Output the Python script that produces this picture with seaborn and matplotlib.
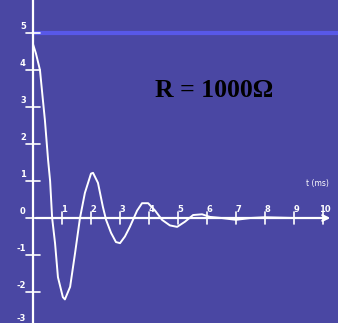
import numpy as np
import pandas as pd
import matplotlib
matplotlib.use("Agg")
import matplotlib.pyplot as plt
import seaborn as sns

# values: time (ms) and voltage
t_ms = [0.0, 0.10, 0.24, 0.34, 0.41, 0.52, 0.59, 0.66, 0.76, 0.86, 1.03, 1.10,
        1.28, 1.45, 1.62, 1.79, 2.00, 2.07, 2.24, 2.41, 2.52, 2.69, 2.86, 3.00,
        3.17, 3.34, 3.59, 3.76, 3.97, 4.21, 4.45, 4.72, 4.97, 5.24, 5.52, 5.83,
        6.10, 6.50, 7.00, 7.50, 8.00, 9.00, 10.0]
volts = [4.7, 4.45, 4.0, 3.2, 2.65, 1.57, 1.0, 0.0, -0.68, -1.6, -2.14, -2.2,
         -1.86, -0.95, 0.0, 0.68, 1.2, 1.22, 0.95, 0.3, -0.05, -0.4, -0.65, -0.68,
         -0.5, -0.24, 0.2, 0.4, 0.4, 0.2, -0.05, -0.2, -0.24, -0.1, 0.08, 0.1,
         0.03, 0.0, -0.05, 0.0, 0.02, 0.0, 0.0]

x_ticks = [1, 2, 3, 4, 5, 6, 7, 8, 9, 10]
y_ticks = [5, 4, 3, 2, 1, 0, -1, -2, -3]
ref_level = 5
title_text = "R = 1000Ω"

df = pd.DataFrame({"t": t_ms, "v": volts})

bg = "#4a47a3"
sns.set_style("white", {"axes.facecolor": bg, "figure.facecolor": bg})

fig = plt.figure(figsize=(3.38, 3.23), dpi=100)
ax = fig.add_axes([0, 0, 1, 1])
ax.set_facecolor(bg)

# reference level line at 5
ax.axhline(ref_level, xmin=0.1, xmax=1, color="#5a5af0", lw=3, alpha=0.9)

# axes drawn by hand like on the scope picture
ax.axvline(0, color="white", lw=1.6)
ax.annotate("", xy=(10.35, 0), xytext=(0, 0),
            arrowprops=dict(arrowstyle="->", color="white", lw=1.6))

for xt in x_ticks:
    ax.plot([xt, xt], [-0.17, 0.17], color="white", lw=1.2)
    ax.text(xt + 0.08, 0.12, str(xt), color="white", fontsize=6,
            ha="center", va="bottom", fontweight="bold")

for yt in y_ticks:
    ax.plot([-0.25, 0.25], [yt, yt], color="white", lw=1.2)
    # bottom label sits at the lower edge, keep it inside the picture
    ty = yt + 0.05 if yt > -3 else -2.83
    ax.text(-0.25, ty, str(yt), color="white", fontsize=6,
            ha="right", va="bottom", fontweight="bold")

ax.text(9.8, 0.8, "t (ms)", color="white", fontsize=5.5, ha="center",
        va="bottom")

sns.lineplot(data=df, x="t", y="v", ax=ax, color="white", lw=1.4)

ax.text(6.25, 3.45, title_text, fontsize=18.5, fontweight="bold",
        family=["Liberation Serif", "DejaVu Serif"], color="black",
        ha="center", va="center")

ax.set_xlim(-33 / 29, (338 - 33) / 29)
ax.set_ylim(-(323 - 218) / 37, 218 / 37)
ax.set_xlabel("")
ax.set_ylabel("")
ax.set_xticks([])
ax.set_yticks([])
for s in ax.spines.values():
    s.set_visible(False)

fig.savefig("out.png", dpi=100, facecolor=bg)
